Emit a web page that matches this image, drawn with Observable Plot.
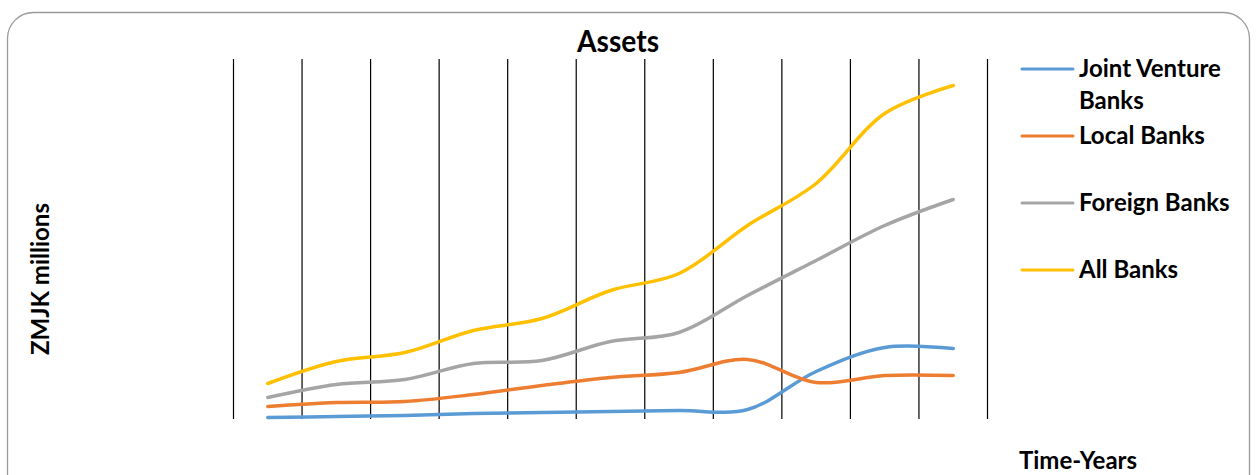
<!DOCTYPE html>
<html>
<head>
<meta charset="utf-8">
<script src="https://cdn.jsdelivr.net/npm/d3@7"></script>
<script src="https://cdn.jsdelivr.net/npm/@observablehq/plot@0.6"></script>
<style>
  html, body { margin: 0; padding: 0; background: #fff; }
  svg { display: block; }
</style>
</head>
<body>
<div id="chart"></div>
<script>
// Categories (years are not labelled in the reference)
const years = [2004, 2005, 2006, 2007, 2008, 2009, 2010, 2011, 2012, 2013, 2014];
const seriesNames = ["Joint Venture Banks", "Local Banks", "Foreign Banks", "All Banks"];
const seriesColors = ["#5B9BD5", "#ED7D31", "#A5A5A5", "#FFC000"];
// Values (ZMJK millions, relative units)
const jointVenture = [2, 3, 4, 6, 7, 8, 9, 10, 48, 72, 71];
const localBanks   = [13, 17, 18, 25, 34, 42, 47, 60, 37, 44, 44];
const foreignBanks = [22, 35, 40, 56, 59, 78, 87, 124, 159, 194, 220];
const allBanks     = [36, 58, 67, 89, 101, 129, 146, 194, 236, 306, 334];

const seriesValues = [jointVenture, localBanks, foreignBanks, allBanks];
const data = seriesNames.flatMap((s, k) => years.map((y, i) => ({series: s, year: y, value: seriesValues[k][i]})));
const boundaries = [...years.map(y => y - 0.5), years[years.length - 1] + 0.5];

const W = 1257, H = 475;
const font = "Lato, 'Open Sans', sans-serif";

const plot = Plot.plot({
  width: W,
  height: H,
  marginLeft: 233,
  marginRight: W - 987,
  marginTop: 59,
  marginBottom: H - 419,
  style: {fontFamily: font, background: "#fff"},
  x: {domain: [years[0] - 0.5, years[years.length - 1] + 0.5], axis: null},
  y: {domain: [0, 360], axis: null},
  color: {domain: seriesNames, range: seriesColors},
  marks: [
    Plot.ruleX(boundaries, {stroke: "#000", strokeWidth: 1.2}),
    Plot.line(data, {x: "year", y: "value", stroke: "series", z: "series", curve: "catmull-rom", strokeWidth: 3.5, strokeLinecap: "round", strokeLinejoin: "round"})
  ]
});

const svg = d3.select(plot);
// Chart border
svg.insert("rect", ":first-child")
  .attr("x", 7.5).attr("y", 12.5).attr("width", 1242).attr("height", 490)
  .attr("rx", 26).attr("ry", 26)
  .attr("fill", "none").attr("stroke", "#9a9a9a").attr("stroke-width", 1.3);

// Title
svg.append("text").attr("x", 618).attr("y", 52).attr("text-anchor", "middle")
  .attr("font-family", font).attr("font-weight", "bold").attr("font-size", 31).attr("fill", "#000")
  .attr("textLength", 82).attr("lengthAdjust", "spacingAndGlyphs")
  .text("Assets");

// Y axis title
svg.append("text").attr("transform", "translate(49,279) rotate(-90)").attr("text-anchor", "middle")
  .attr("font-family", font).attr("font-weight", "bold").attr("font-size", 24).attr("fill", "#000")
  .text("ZMJK millions");

// X axis title
svg.append("text").attr("x", 1078).attr("y", 469).attr("text-anchor", "middle")
  .attr("font-family", font).attr("font-weight", "bold").attr("font-size", 24).attr("fill", "#000")
  .text("Time-Years");

// Legend
const legendY = [69, 136, 203, 270];
const legendLabels = [["Joint Venture", "Banks"], ["Local Banks"], ["Foreign Banks"], ["All Banks"]];
legendLabels.forEach((lines, i) => {
  const g = svg.append("g");
  g.append("line").attr("x1", 1022).attr("x2", 1073).attr("y1", legendY[i]).attr("y2", legendY[i])
    .attr("stroke", seriesColors[i]).attr("stroke-width", 3).attr("stroke-linecap", "round");
  lines.forEach((t, j) => {
    g.append("text").attr("x", 1079).attr("y", legendY[i] + 8 + j * 32)
      .attr("text-anchor", "start")
      .attr("font-family", font).attr("font-weight", "bold").attr("font-size", 24).attr("fill", "#000")
      .text(t);
  });
});

document.getElementById("chart").appendChild(plot);
</script>
</body>
</html>
